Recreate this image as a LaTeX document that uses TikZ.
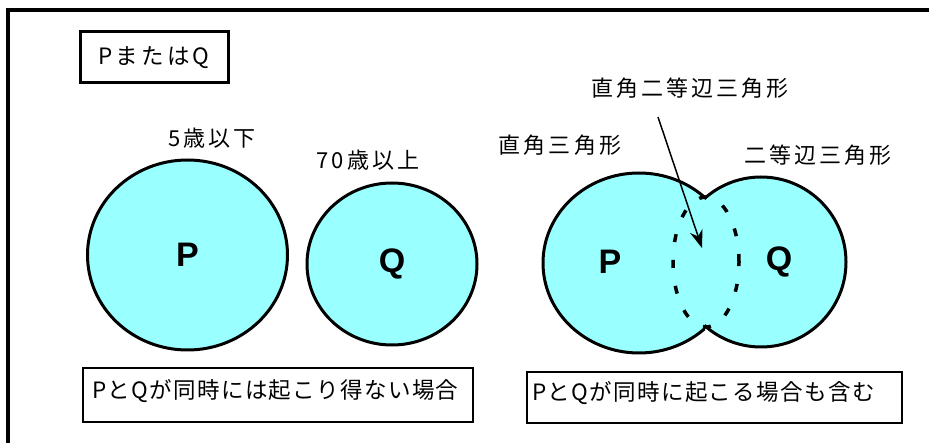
\documentclass[tikz,border=0pt]{standalone}
\usepackage{fontspec}
\setmainfont{Noto Sans CJK JP}[LetterSpace=14]
\newfontfamily\boxfont{Noto Sans CJK JP}[LetterSpace=6]
\newfontfamily\latinbold{Liberation Sans}
\usetikzlibrary{shapes.geometric,arrows.meta}
\definecolor{venn}{RGB}{153,255,255}
\tikzset{
  setshape/.style={ellipse, draw=black, fill=venn, line width=3pt, inner sep=0pt,
    font=\latinbold\bfseries\fontsize{34}{38}\selectfont},
  setlabel/.style={inner sep=0pt, font=\latinbold\bfseries\fontsize{34}{38}\selectfont},
  lbl/.style={inner sep=0pt, font=\fontsize{22}{26}\selectfont},
  boxtext/.style={inner sep=0pt, anchor=west, font=\boxfont\fontsize{22.5}{26}\selectfont},
  dashring/.style={draw=black, line width=3.5pt, dash pattern=on 8pt off 18pt},
}
\begin{document}
\begin{tikzpicture}[x=1pt,y=-1pt]
\useasboundingbox (0,0) rectangle (929,443);
\draw[line width=4pt] (8,443) -- (8,10) -- (929,10);
% title box
\node[draw=black, line width=3pt, minimum width=148pt, minimum height=51pt, inner sep=0pt,
  font=\fontsize{22.5}{26}\selectfont] (title) at (154,57.5) {PまたはQ};
% left diagram
\node[setshape, minimum width=200pt, minimum height=190pt] (P1) at (187.5,255) {P};
\node[setshape, minimum width=170pt, minimum height=162pt] (Q1) at (392,264) {Q};
\node[lbl] (age5) at (212,138) {5歳以下};
\node[lbl] (age70) at (368,160) {70歳以上};
% right diagram: union shape
\fill[venn] (639,263) ellipse [x radius=96, y radius=90];
\fill[venn] (761,262) ellipse [x radius=85, y radius=85];
\begin{scope}
\clip (0,0) rectangle (705,443);
\draw[line width=3pt] (639,263) ellipse [x radius=96, y radius=90];
\end{scope}
\begin{scope}
\clip (705,0) rectangle (929,443);
\draw[line width=3pt] (761,262) ellipse [x radius=85, y radius=85];
\end{scope}
\node[ellipse, dashring, minimum width=66pt, minimum height=130pt, inner sep=0pt] (inter) at (706,262) {};
\node[setlabel] (P2) at (610,262) {P};
\node[setlabel] (Q2) at (779,262) {Q};
\node[lbl] (right) at (560,145) {直角三角形};
\node[lbl] (isos) at (818,155) {二等辺三角形};
\node[lbl] (riso) at (690,88) {直角二等辺三角形};
\coordinate (tail) at (658,117);
\coordinate (tip) at (702,248);
\draw[line width=1.5pt, -{Stealth[length=18pt, width=13pt]}] (tail) -- (tip);
% bottom boxes
\draw[line width=1.3pt] (83,368) rectangle (473,422);
\node[boxtext] (cap1) at (92,391) {PとQが同時には起こり得ない場合};
\draw[line width=1.3pt] (527,372) rectangle (902,423);
\node[boxtext] (cap2) at (532,393) {PとQが同時に起こる場合も含む};
\end{tikzpicture}
\end{document}
